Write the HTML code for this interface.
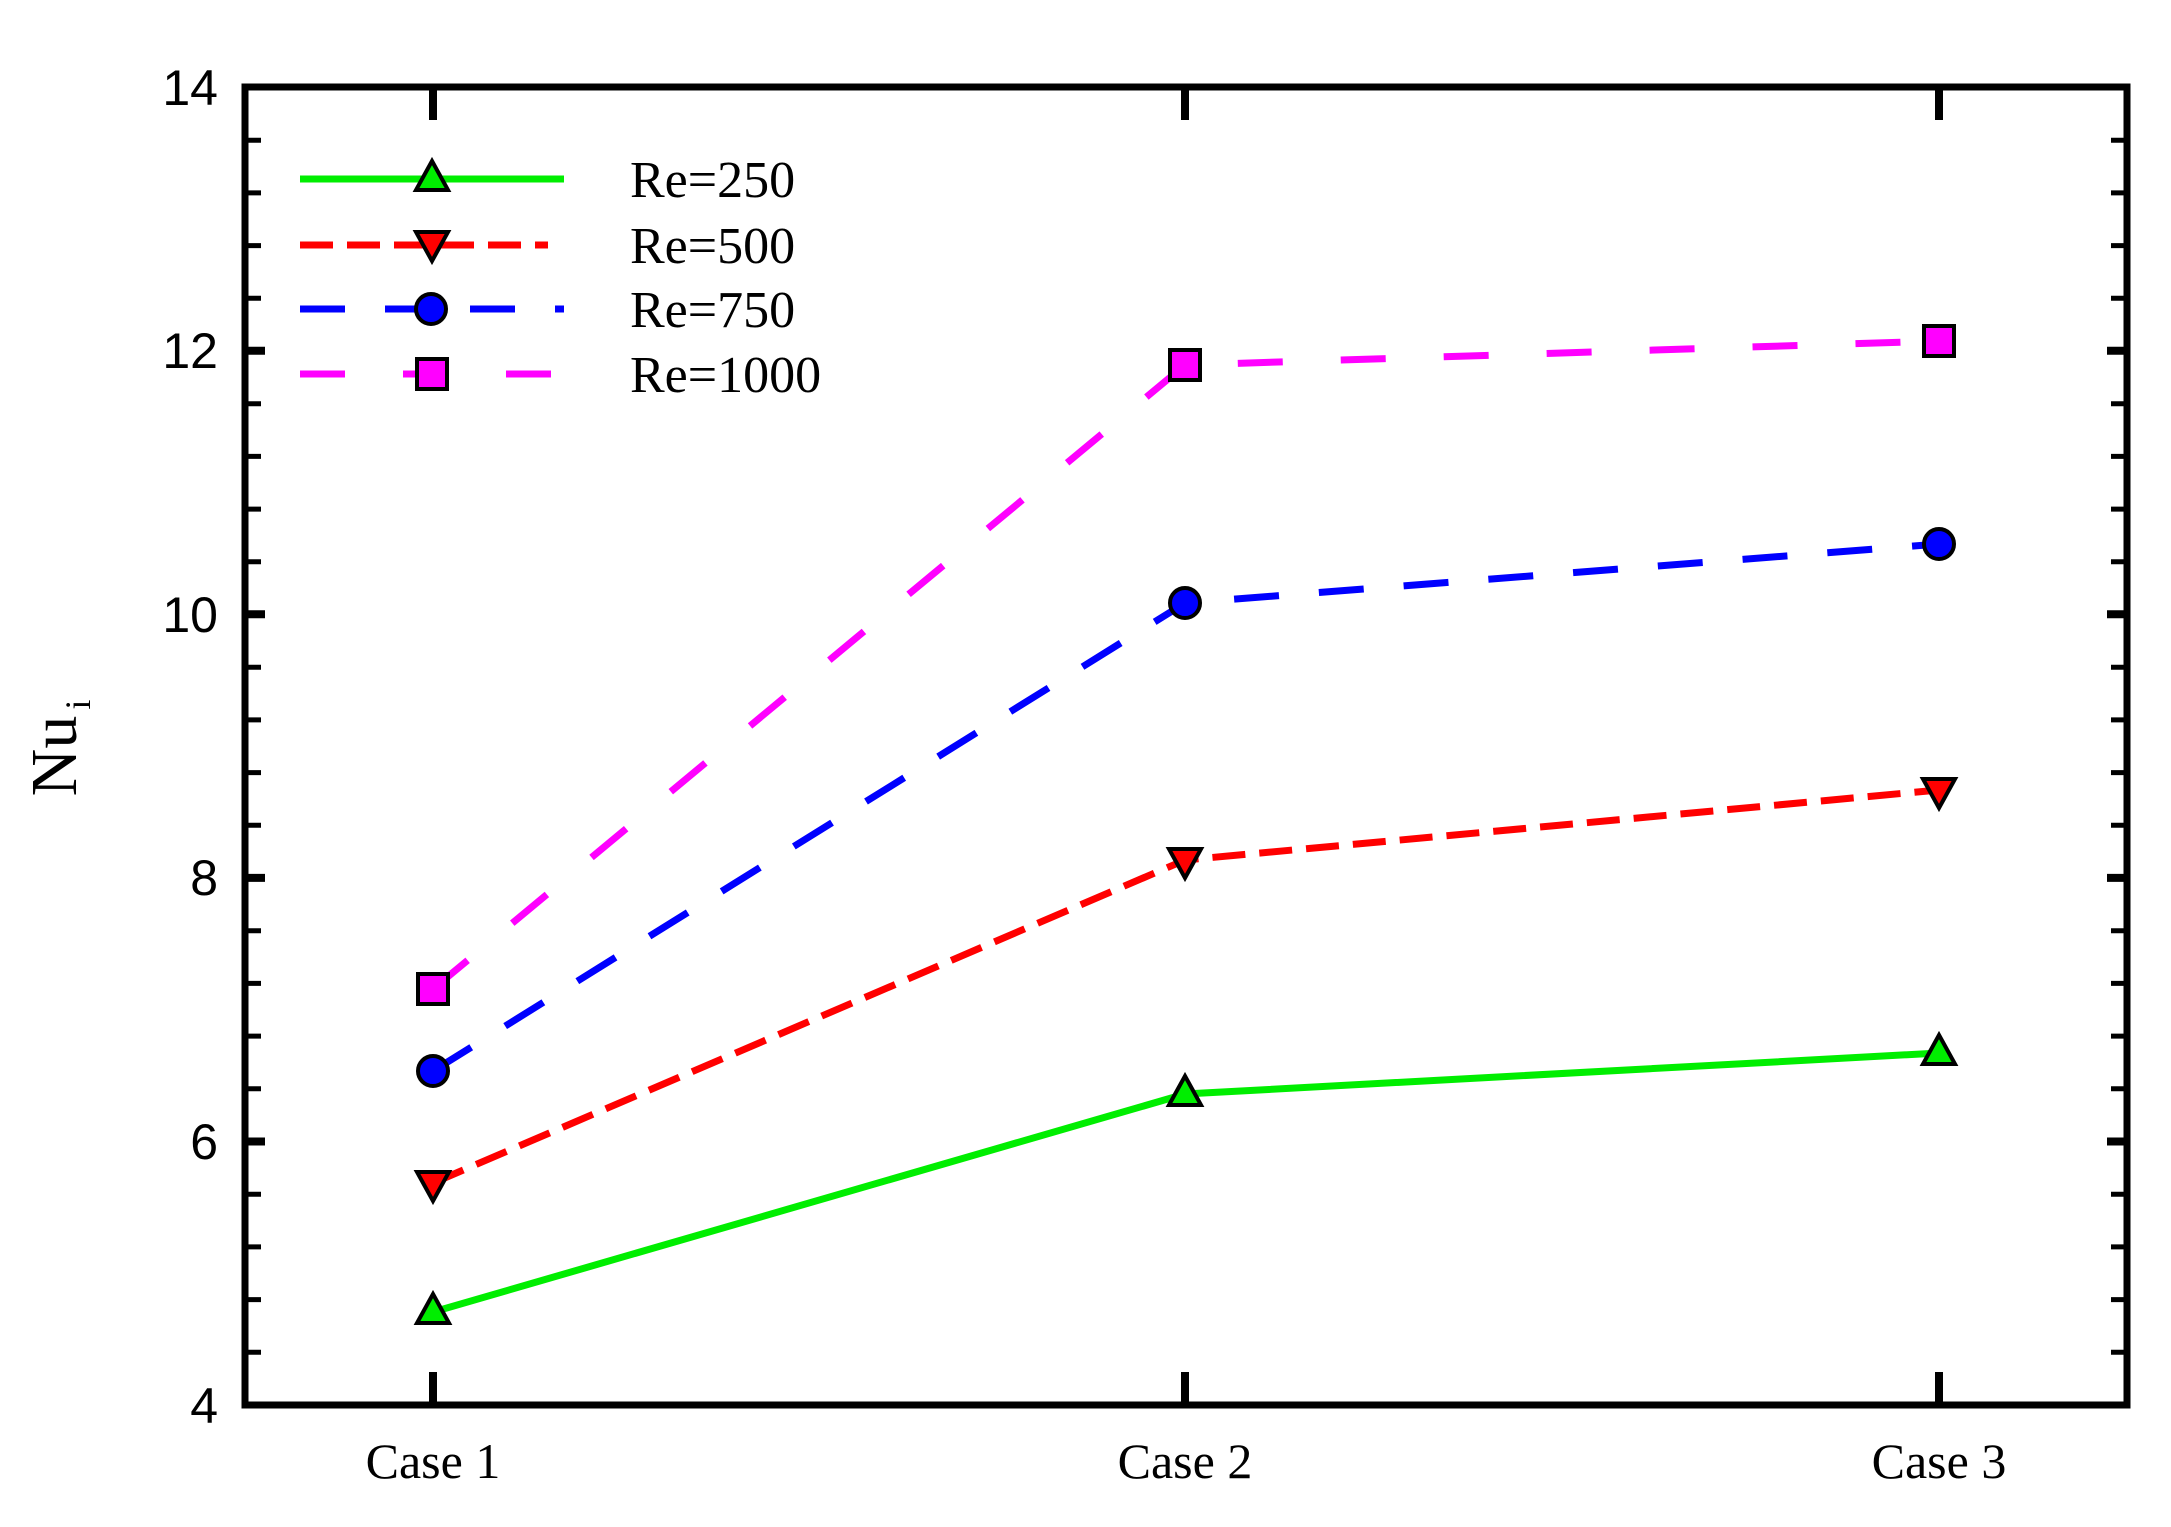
<!DOCTYPE html>
<html><head><meta charset="utf-8"><style>html,body{margin:0;padding:0;background:#fff}</style></head>
<body>
<svg width="2171" height="1522" viewBox="0 0 2171 1522" xmlns="http://www.w3.org/2000/svg">
<rect width="2171" height="1522" fill="#fff"/>
<g stroke="#000" stroke-width="5">
<path d="M245 1352.3h16M245 1299.6h16M245 1246.9h16M245 1194.2h16M245 1088.8h16M245 1036.1h16M245 983.4h16M245 930.7h16M245 825.3h16M245 772.6h16M245 719.9h16M245 667.2h16M245 561.8h16M245 509.1h16M245 456.4h16M245 403.7h16M245 298.3h16M245 245.6h16M245 192.9h16M245 140.2h16"/>
<path d="M2127 1352.3h-16M2127 1299.6h-16M2127 1246.9h-16M2127 1194.2h-16M2127 1088.8h-16M2127 1036.1h-16M2127 983.4h-16M2127 930.7h-16M2127 825.3h-16M2127 772.6h-16M2127 719.9h-16M2127 667.2h-16M2127 561.8h-16M2127 509.1h-16M2127 456.4h-16M2127 403.7h-16M2127 298.3h-16M2127 245.6h-16M2127 192.9h-16M2127 140.2h-16"/>
</g>
<g stroke="#000" stroke-width="8">
<path d="M245 1141.5h20M245 877.9h20M245 614.3h20M245 350.7h20"/>
<path d="M2127 1141.5h-20M2127 877.9h-20M2127 614.3h-20M2127 350.7h-20"/>
<path d="M433 1405v-33M1185 1405v-33M1939 1405v-33M433 87v33M1185 87v33M1939 87v33"/>
</g>
<rect x="245" y="87" width="1882" height="1318" fill="none" stroke="#000" stroke-width="7"/>
<g font-family="Liberation Sans, sans-serif" font-size="50" text-anchor="end">
<text x="218" y="1423">4</text><text x="218" y="1159">6</text><text x="218" y="895">8</text>
<text x="218" y="632">10</text><text x="218" y="368">12</text><text x="218" y="105">14</text>
</g>
<g font-family="Liberation Serif, serif" font-size="50" text-anchor="middle">
<text x="433" y="1478">Case 1</text><text x="1185" y="1478">Case 2</text><text x="1939" y="1478">Case 3</text>
</g>
<text transform="translate(76,748) rotate(-90)" font-family="Liberation Serif, serif" font-size="66" text-anchor="middle">Nu<tspan font-size="36" dy="14" dx="6">i</tspan></text>
<g fill="none" stroke-width="7">
<polyline points="433,1312 1185,1094 1939,1053" stroke="#00ee00"/>
<polyline points="433,1183 1185,860 1939,790" stroke="#ff0000" stroke-dasharray="33,14"/>
<polyline points="433,1071 1185,603 1939,544" stroke="#0000ff" stroke-dasharray="45,40"/>
<polyline points="433,989 1185,365 1939,341" stroke="#ff00ff" stroke-dasharray="45,58"/>
</g>
<g stroke="#000" stroke-width="4">
<g fill="#00ee00"><path d="M433 1294l16 29h-32z"/><path d="M1185 1076l16 29h-32z"/><path d="M1939 1035l16 29h-32z"/></g>
<g fill="#ff0000"><path d="M433 1201l16-29h-32z"/><path d="M1185 878l16-29h-32z"/><path d="M1939 808l16-29h-32z"/></g>
<g fill="#0000ff"><circle cx="433" cy="1071" r="15"/><circle cx="1185" cy="603" r="15"/><circle cx="1939" cy="544" r="15"/></g>
<g fill="#ff00ff"><rect x="418" y="974" width="30" height="30"/><rect x="1170" y="350" width="30" height="30"/><rect x="1924" y="326" width="30" height="30"/></g>
</g>
<g fill="none" stroke-width="7">
<path d="M300 179h264" stroke="#00ee00"/>
<path d="M300 245h248" stroke="#ff0000" stroke-dasharray="33,14"/>
<path d="M300 309h264" stroke="#0000ff" stroke-dasharray="45,40"/>
<path d="M300 374h252" stroke="#ff00ff" stroke-dasharray="45,58"/>
</g>
<g stroke="#000" stroke-width="4">
<path d="M432 161l16 29h-32z" fill="#00ee00"/>
<path d="M432 261l16-29h-32z" fill="#ff0000"/>
<circle cx="431" cy="309" r="15" fill="#0000ff"/>
<rect x="417" y="359" width="30" height="30" fill="#ff00ff"/>
</g>
<g font-family="Liberation Serif, serif" font-size="52">
<text x="630" y="197">Re=250</text><text x="630" y="263">Re=500</text>
<text x="630" y="327">Re=750</text><text x="630" y="392">Re=1000</text>
</g>
</svg>
</body></html>
